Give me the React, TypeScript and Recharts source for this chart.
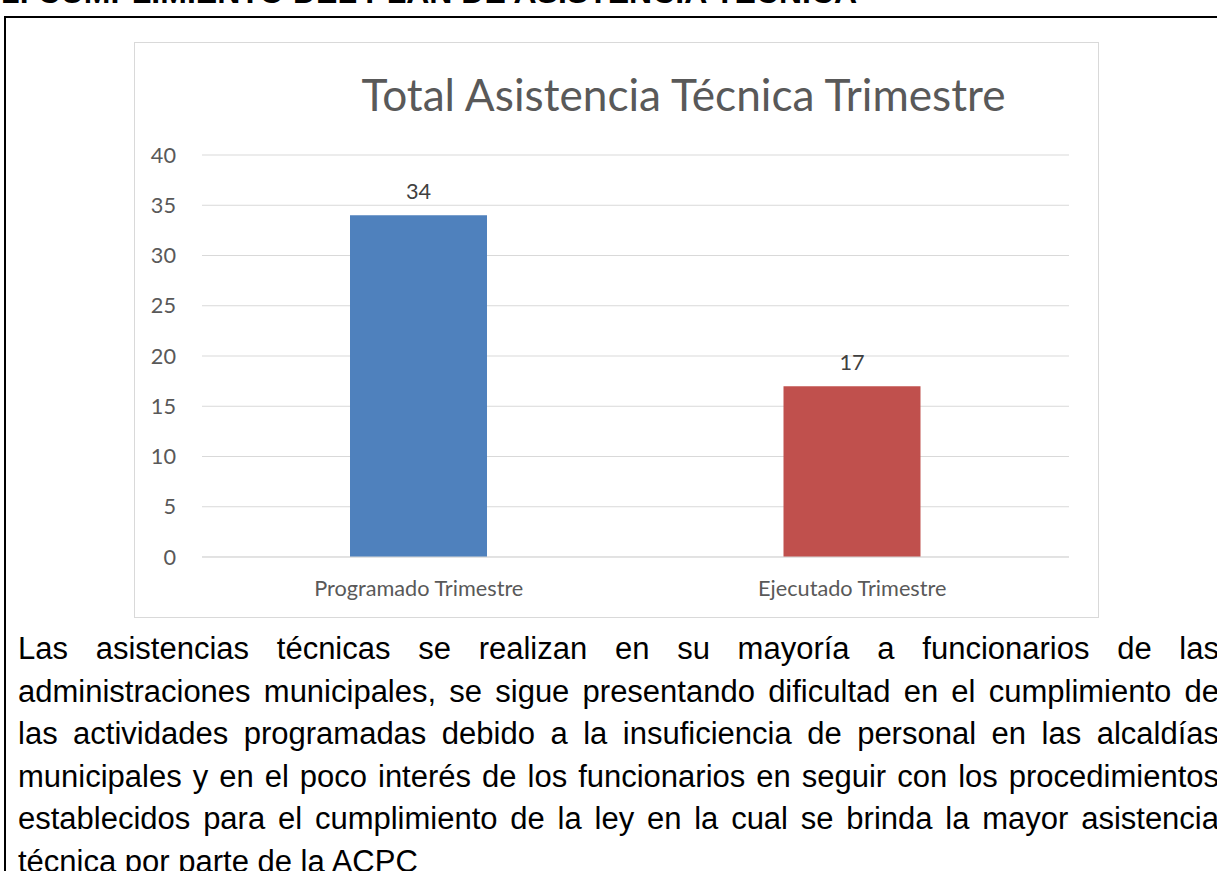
import React from 'react';
import { BarChart, Bar, XAxis, YAxis, CartesianGrid, Cell, LabelList } from 'recharts';

const categories = ['Programado Trimestre', 'Ejecutado Trimestre'];
const values = [34, 17];
const barColors = ['#4f81bd', '#c0504d'];
const yTicks = [0, 5, 10, 15, 20, 25, 30, 35, 40];
const chartTitle = 'Total Asistencia Técnica Trimestre';
const heading = '2. CUMPLIMIENTO DEL PLAN DE ASISTENCIA TÉCNICA';
const paragraphLines = [
  'Las asistencias técnicas se realizan en su mayoría a funcionarios de las',
  'administraciones municipales, se sigue presentando dificultad en el cumplimiento de',
  'las actividades programadas debido a la insuficiencia de personal en las alcaldías',
  'municipales y en el poco interés de los funcionarios en seguir con los procedimientos',
  'establecidos para el cumplimiento de la ley en la cual se brinda la mayor asistencia',
  'técnica por parte de la ACPC',
];

const data = categories.map((name, i) => ({ name, value: values[i] }));

const chartFont = 'Lato, "Open Sans", sans-serif';
const textFont = '"Liberation Sans", Arial, sans-serif';

export default function App() {
  return (
    <div
      style={{
        position: 'absolute',
        left: 0,
        top: 0,
        width: 1217,
        height: 871,
        overflow: 'hidden',
        background: '#ffffff',
      }}
    >
      <div
        style={{
          position: 'absolute',
          left: 2,
          top: -24,
          fontFamily: textFont,
          fontWeight: 'bold',
          fontSize: 32,
          lineHeight: '32px',
          whiteSpace: 'nowrap',
          color: '#000',
        }}
      >
        {heading}
      </div>
      <div
        style={{
          position: 'absolute',
          left: 4,
          top: 16,
          width: 1400,
          height: 1200,
          border: '2px solid #000',
          boxSizing: 'border-box',
        }}
      />
      <div
        style={{
          position: 'absolute',
          left: 134,
          top: 42,
          width: 965,
          height: 576,
          border: '1px solid #d9d9d9',
          boxSizing: 'border-box',
          background: '#ffffff',
        }}
      >
        <BarChart
          width={963}
          height={574}
          data={data}
          margin={{ top: 112, right: 29, left: 0, bottom: 0 }}
        >
          <CartesianGrid horizontal={true} vertical={false} stroke="#d9d9d9" strokeWidth={1} />
          <XAxis
            dataKey="name"
            height={60}
            axisLine={{ stroke: '#d9d9d9' }}
            tickLine={false}
            tickSize={0}
            tickMargin={24}
            tick={{ fill: '#595959', fontSize: 21.7, fontFamily: chartFont }}
            interval={0}
          />
          <YAxis
            width={67}
            domain={[0, 40]}
            ticks={yTicks}
            axisLine={false}
            tickLine={false}
            tickSize={0}
            tickMargin={26}
            tick={{ fill: '#595959', fontSize: 21.7, fontFamily: chartFont }}
          />
          <Bar dataKey="value" barSize={137} isAnimationActive={false}>
            {data.map((d, i) => (
              <Cell key={d.name} fill={barColors[i]} />
            ))}
            <LabelList
              dataKey="value"
              position="top"
              offset={16}
              fill="#404040"
              fontSize={21.7}
              fontFamily={chartFont}
            />
          </Bar>
        </BarChart>
      </div>
      <div
        style={{
          position: 'absolute',
          left: 183.5,
          top: 72,
          width: 1000,
          textAlign: 'center',
          fontFamily: chartFont,
          fontSize: 44.2,
          lineHeight: '44px',
          color: '#595959',
          whiteSpace: 'nowrap',
        }}
      >
        {chartTitle}
      </div>
      <div
        style={{
          position: 'absolute',
          left: 18,
          top: 628,
          width: 1201,
          fontFamily: textFont,
          fontSize: 31,
          color: '#000',
        }}
      >
        {paragraphLines.map((line, i) => (
          <div
            key={i}
            style={{
              height: 42.6,
              lineHeight: '42.6px',
              whiteSpace: 'nowrap',
              textAlign: i < paragraphLines.length - 1 ? 'justify' : 'left',
              textAlignLast: i < paragraphLines.length - 1 ? 'justify' : 'left',
            }}
          >
            {line}
          </div>
        ))}
      </div>
    </div>
  );
}
